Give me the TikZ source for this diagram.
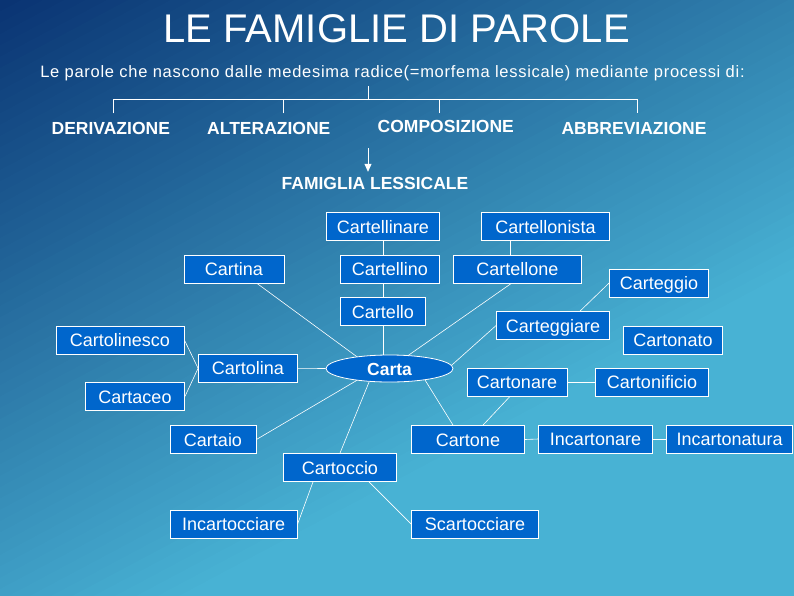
\documentclass[tikz,border=0pt]{standalone}
\usepackage{fontspec}
\setmainfont{Liberation Sans}
\newfontfamily\widefont[LetterSpace=4.4]{Liberation Sans}
\usetikzlibrary{arrows.meta,shapes.geometric}
\definecolor{bgdark}{RGB}{10,52,115}
\definecolor{bglight}{RGB}{72,178,212}
\definecolor{boxblue}{RGB}{0,102,204}
\tikzset{
  word/.style={draw=white, line width=0.8pt, fill=boxblue, text=white,
    font=\fontsize{18}{20}\selectfont, minimum height=28pt, inner sep=0pt,
    text height=13pt, text depth=0pt},
  head/.style={text=white, font=\bfseries\fontsize{17.5}{20}\selectfont,
    inner sep=0pt, text height=12.6pt, text depth=0pt},
  link/.style={white, line width=0.6pt},
}
\begin{document}
\begin{tikzpicture}[x=1pt,y=-1pt]
	\useasboundingbox (0,0) rectangle (794,595);
	% background
	\begin{scope}
		\clip (-1,-1) rectangle (795,596);
		\fill[bglight] (-1,-1) rectangle (795,596);
		\foreach \i in {0,...,61}{
			\pgfmathsetmacro\p{\i*100/61}
			\fill[bglight!\p!bgdark, rotate=-62] (\i*10,-900) rectangle (\i*10+11,900);
		}
	\end{scope}
	% titles
	\node[text=white, font=\fontsize{40}{44}\selectfont, inner sep=0pt, text height=29pt, text depth=0pt] (title) at (396.7,28.3) {LE FAMIGLIE DI PAROLE};
	\node[text=white, font=\widefont\fontsize{16.5}{18}\selectfont, inner sep=0pt, text height=12pt, text depth=0pt] (intro) at (392.5,71) {Le parole che nascono dalle medesima radice(=morfema lessicale) mediante processi di:};
	\node[head] (der) at (110.8,127.8) {DERIVAZIONE};
	\node[head] (alt) at (268.8,127.8) {ALTERAZIONE};
	\node[head] (comp) at (445.8,126.3) {COMPOSIZIONE};
	\node[head] (abbr) at (634,127.8) {ABBREVIAZIONE};
	\node[head] (fam) at (375,183.3) {FAMIGLIA LESSICALE};
	% bracket
	\coordinate (stem) at (368,86);
	\coordinate (fork) at (368,99.3);
	\coordinate (tder) at (113.3,113.3);
	\coordinate (talt) at (283.3,113.3);
	\coordinate (tcomp) at (439.3,113.3);
	\coordinate (tabbr) at (637.3,113.3);
	\coordinate (arr) at (368,148);
	\draw[link] (stem) -- (fork);
	\draw[link] (tder) |- (fork) -| (tabbr);
	\draw[link] (talt) -- (talt |- fork);
	\draw[link] (tcomp) -- (tcomp |- fork);
	\draw[link, line width=0.8pt, -{Triangle[length=8pt,width=7pt]}, shorten >=5pt] (arr) -- (arr |- fam.north);
	% words
	\node[word, minimum width=113pt] (cartellinare) at (383,226.5) {Cartellinare};
	\node[word, minimum width=128pt] (cartellonista) at (545.5,226.5) {Cartellonista};
	\node[word, minimum width=100pt] (cartina) at (234,269) {Cartina};
	\node[word, minimum width=99pt] (cartellino) at (390,269) {Cartellino};
	\node[word, minimum width=128pt] (cartellone) at (517.3,269) {Cartellone};
	\node[word, minimum width=99pt] (carteggio) at (659,283) {Carteggio};
	\node[word, minimum width=85pt] (cartello) at (383,311.5) {Cartello};
	\node[word, minimum width=113pt] (carteggiare) at (553,325.5) {Carteggiare};
	\node[word, minimum width=128pt] (cartolinesco) at (120,340) {Cartolinesco};
	\node[word, minimum width=99pt] (cartonato) at (673,340) {Cartonato};
	\node[word, minimum width=99pt] (cartolina) at (248,368.3) {Cartolina};
	\node[word, ellipse, font=\bfseries\fontsize{17.5}{20}\selectfont, minimum width=127pt, minimum height=27pt] (carta) at (389.5,368.5) {Carta};
	\node[word, minimum width=99pt] (cartaceo) at (135,396.5) {Cartaceo};
	\node[word, minimum width=100pt] (cartonare) at (517,382) {Cartonare};
	\node[word, minimum width=113pt] (cartonificio) at (652,382) {Cartonificio};
	\node[word, minimum width=86pt] (cartaio) at (213,439.5) {Cartaio};
	\node[word, minimum width=113pt] (cartone) at (468,439.5) {Cartone};
	\node[word, minimum width=114pt] (incartonare) at (595.5,439) {Incartonare};
	\node[word, minimum width=126pt] (incartonatura) at (729.7,439) {Incartonatura};
	\node[word, minimum width=113pt] (cartoccio) at (340,467.5) {Cartoccio};
	\node[word, minimum width=127pt] (incartocciare) at (233.7,524) {Incartocciare};
	\node[word, minimum width=127pt] (scartocciare) at (475,524) {Scartocciare};
	% links
	\draw[link] (cartellinare.south) -- (cartellinare.south |- cartellino.north);
	\draw[link] (cartello.north |- cartellino.south) -- (cartello.north);
	\draw[link] (cartello.south) -- (cartello.south |- carta.north);
	\draw[link] ([xshift=-7pt]cartellone.north) -- ([xshift=-7pt]cartellone.north |- cartellonista.south);
	\draw[link] ([xshift=-6pt]cartellone.south) -- (carta);
	\draw[link] ([xshift=23pt]cartina.south) -- (carta.160);
	\draw[link] (carteggio.west) -- ([xshift=27pt]carteggiare.north);
	\draw[link] (carteggiare.west) -- (carta.3);
	\draw[link] (cartolinesco.east) -- (cartolina.west);
	\draw[link] (cartaceo.east) -- (cartolina.west);
	\draw[link] (cartolina.east) -- (carta.west);
	\draw[link] (cartaio.east) -- (carta.200);
	\draw[link] (cartoccio.north) -- (carta.213);
	\draw[link] ([xshift=-15pt]cartone.north) -- (carta.-18);
	\draw[link] ([xshift=-7pt]cartonare.south) -- ([xshift=15pt]cartone.north);
	\draw[link] (cartonare.east) -- (cartonificio.west);
	\draw[link] (cartone.east) -- (incartonare.west);
	\draw[link] (incartonare.east) -- (incartonatura.west);
	\draw[link] ([xshift=-27pt]cartoccio.south) -- (incartocciare.east);
	\draw[link] ([xshift=29pt]cartoccio.south) -- (scartocciare.west);
\end{tikzpicture}
\end{document}
